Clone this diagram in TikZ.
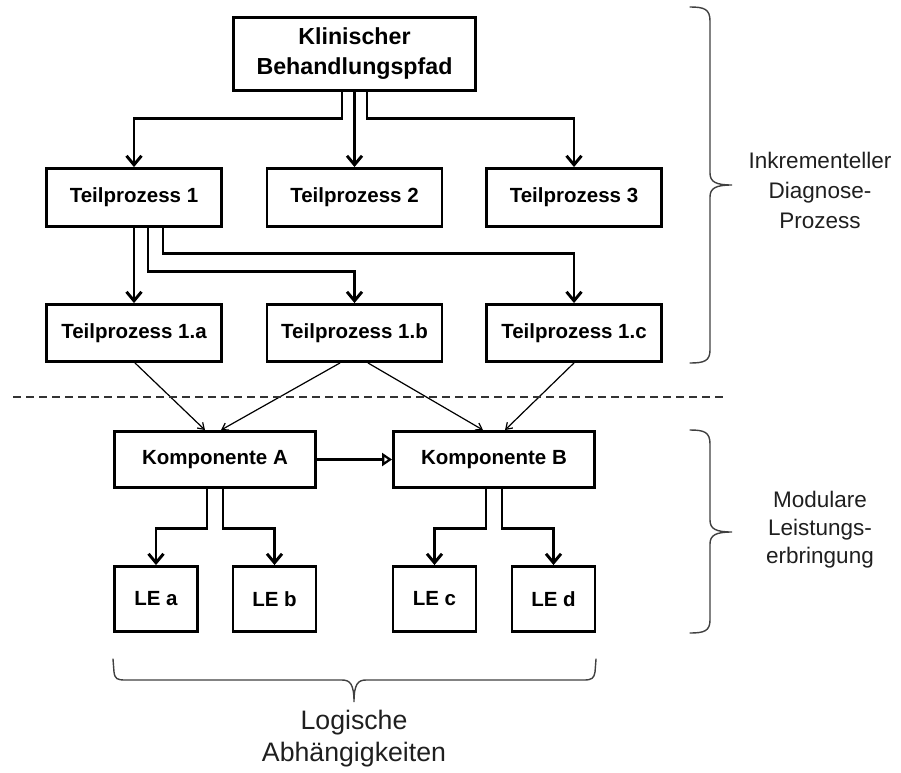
\documentclass[tikz,border=0pt]{standalone}
\usepackage{fontspec}
\setmainfont{Liberation Sans}
\usetikzlibrary{arrows.meta}
\begin{document}
\begin{tikzpicture}[x=1pt,y=-1pt,
  box/.style={draw=black, line width=2.9pt, rectangle, inner sep=0pt, align=center,
    font=\bfseries\fontsize{20.5}{24}\selectfont},
  procbox/.style={box, minimum width=175pt, minimum height=58pt},
  compbox/.style={box, minimum width=201pt, minimum height=56pt},
  lebox/.style={box, minimum width=83pt, minimum height=65pt},
  flow/.style={line width=2.9pt, -{Straight Barb[length=9pt,width=15pt]}},
  link/.style={line width=1.2pt, -{Straight Barb[length=6pt,width=8pt]}},
  bracepath/.style={line width=1.4pt, draw=black!75, line cap=round},
  sidelabel/.style={align=center, text=black!88, inner sep=0pt}
]
\useasboundingbox (0,0) rectangle (901,772);

% process hierarchy
\node[box, minimum width=242pt, minimum height=73pt, font=\bfseries\fontsize{23.2}{30}\selectfont]
  (top) at (354.5,54) {Klinischer\\Behandlungspfad};
\node[procbox] (tp1) at (134,197.5) {Teilprozess 1};
\node[procbox] (tp2) at (354.5,197.5) {Teilprozess 2};
\node[procbox] (tp3) at (574,197.5) {Teilprozess 3};
\node[procbox, minimum height=57pt] (tpa) at (134,333) {Teilprozess 1.a};
\node[procbox, minimum height=57pt] (tpb) at (354.5,333) {Teilprozess 1.b};
\node[procbox, minimum height=57pt] (tpc) at (574,333) {Teilprozess 1.c};

% modules and service units
\node[compbox] (ka) at (215,459.5) {Komponente A};
\node[compbox] (kb) at (494,459.5) {Komponente B};
\node[lebox] (lea) at (156,599) {LE a};
\node[lebox] (leb) at (274.5,599) {LE b};
\node[lebox] (lec) at (434.5,599) {LE c};
\node[lebox] (led) at (553.5,599) {LE d};

% orthogonal flow connectors
\draw[flow] ([xshift=-12.5pt]top.south) -- ++(0,26.5) -| (tp1.north);
\draw[flow] (top.south) -- (tp2.north);
\draw[flow] ([xshift=12.5pt]top.south) -- ++(0,26.5) -| (tp3.north);
\draw[flow] (tp1.south) -- (tpa.north);
\draw[flow] ([xshift=14pt]tp1.south) -- ++(0,43.5) -| (tpb.north);
\draw[flow] ([xshift=29pt]tp1.south) -- ++(0,25.5) -| (tpc.north);
\draw[flow] ([xshift=-8pt]ka.south) -- ++(0,39.5) -| (lea.north);
\draw[flow] ([xshift=8pt]ka.south) -- ++(0,39.5) -| (leb.north);
\draw[flow] ([xshift=-8pt]kb.south) -- ++(0,39.5) -| (lec.north);
\draw[flow] ([xshift=8pt]kb.south) -- ++(0,39.5) -| (led.north);
\draw[line width=2.9pt, -{Triangle[open,length=10pt,width=13pt,line width=2.2pt]}] (ka.east) -- (kb.west);

% dependencies between subprocesses and modules
\draw[link] ([xshift=1pt]tpa.south) -- ([xshift=-10pt]ka.north);
\draw[link] ([xshift=-14.5pt]tpb.south) -- ([xshift=6pt]ka.north);
\draw[link] ([xshift=13.5pt]tpb.south) -- ([xshift=-11pt]kb.north);
\draw[link] (tpc.south) -- ([xshift=11pt]kb.north);

% separator
\coordinate (sepL) at (13,397);
\coordinate (sepR) at (723,397);
\draw[line width=1.5pt, black!80, dash pattern=on 8pt off 5pt] (sepL) -- (sepR);

% right braces
\draw[bracepath] (690,7) .. controls (704,7) and (710,9) .. (710,21) -- (710,173)
  .. controls (710,182) and (716,185) .. (732,185)
  .. controls (716,185) and (710,188) .. (710,197) -- (710,350)
  .. controls (710,361) and (704,363) .. (690,363);
\draw[bracepath] (690,430) .. controls (704,430) and (710,432) .. (710,444) -- (710,520)
  .. controls (710,529) and (716,532) .. (732,532)
  .. controls (716,532) and (710,535) .. (710,544) -- (710,620)
  .. controls (710,631) and (704,633) .. (690,633);

% bottom brace
\draw[bracepath] (113,659) -- (114,672) .. controls (115,679) and (117,680) .. (126,680) -- (342,680)
  .. controls (350,680) and (354,684) .. (354,702)
  .. controls (354,684) and (358,680) .. (366,680) -- (584,680)
  .. controls (592,680) and (594,678) .. (595,672) -- (596,659);

% brace labels
\node[sidelabel, font=\fontsize{22.5}{30}\selectfont] (lblDiag) at (820,190)
  {Inkrementeller\\Diagnose-\\Prozess};
\node[sidelabel, font=\fontsize{22.5}{28}\selectfont] (lblMod) at (820,530)
  {Modulare\\Leistungs-\\erbringung};
\node[sidelabel, font=\fontsize{26.7}{32}\selectfont] (lblLog) at (354,739)
  {Logische\\Abhängigkeiten};
\end{tikzpicture}
\end{document}
